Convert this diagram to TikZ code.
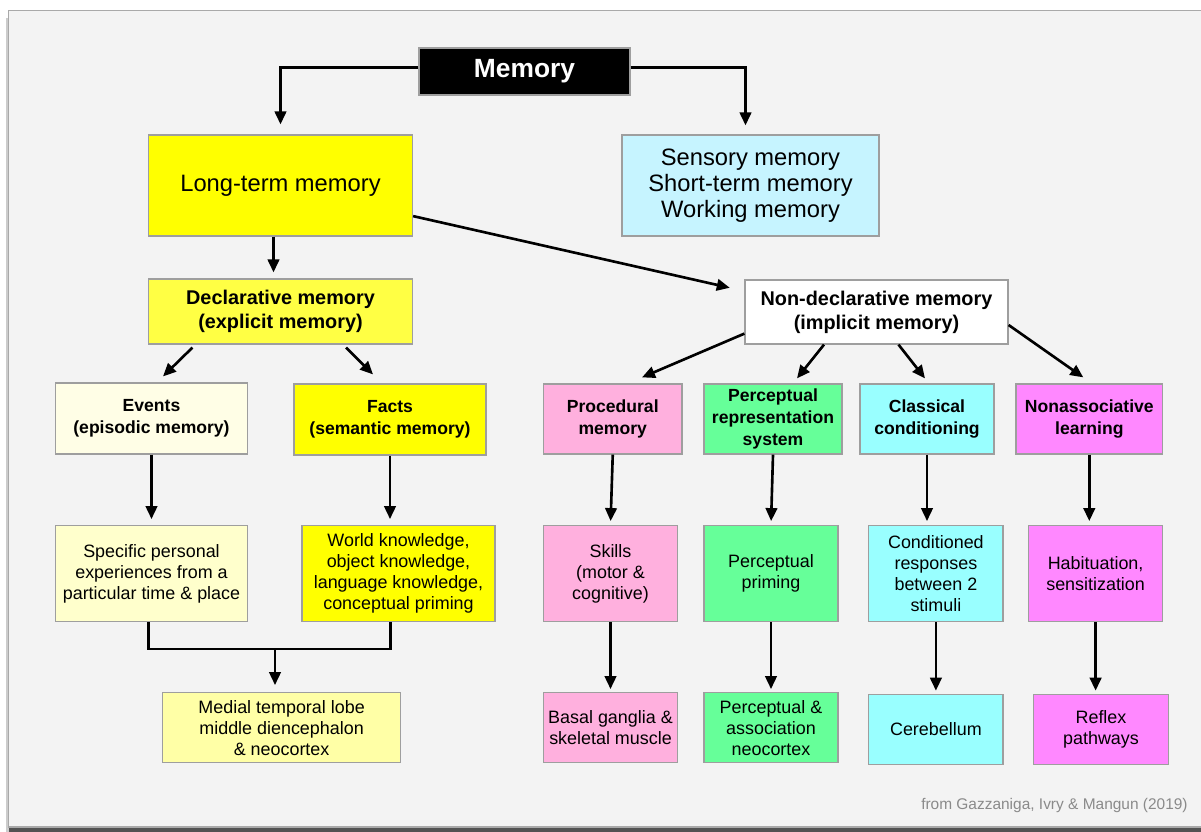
\documentclass[tikz,border=0pt]{standalone}
\usepackage{fontspec}
\setmainfont{Liberation Sans}
\usetikzlibrary{arrows.meta}
\definecolor{slidebg}{HTML}{F3F3F3}
\definecolor{slideedge}{HTML}{A9A9A9}
\definecolor{boxedge}{HTML}{9E9E9E}
\definecolor{ltmyellow}{HTML}{FFFF00}
\definecolor{declyellow}{HTML}{FFFF44}
\definecolor{eventcream}{HTML}{FFFEE6}
\definecolor{specificcream}{HTML}{FFFFCC}
\definecolor{medialyellow}{HTML}{FFFFA6}
\definecolor{sensoryblue}{HTML}{C6F4FF}
\definecolor{procpink}{HTML}{FFB0DE}
\definecolor{prsgreen}{HTML}{66FF99}
\definecolor{condcyan}{HTML}{99FFFF}
\definecolor{nonassocmag}{HTML}{FF88FF}
\definecolor{creditgray}{HTML}{8A8A8A}
\begin{document}
\begin{tikzpicture}[x=0.02cm, y=-0.02cm,
      wh/.style 2 args={minimum width=#1*0.02cm, minimum height=#2*0.02cm},
      box/.style={draw=boxedge, line width=0.7pt, inner sep=0pt, align=center, text=black},
      plain/.style={box, font=\fontsize{10.2}{11.9}\selectfont},
      head/.style={box, font=\bfseries\fontsize{10}{12.5}\selectfont},
      big/.style={box, font=\fontsize{13.5}{14.8}\selectfont},
      mid/.style={box, font=\bfseries\fontsize{11.3}{13.6}\selectfont},
      memhead/.style={fill=black, draw=boxedge, line width=0.7pt, text=white,
        font=\bfseries\fontsize{15}{18}\selectfont},
      link/.style={-{Triangle[length=2.6mm,width=2.3mm]}, line width=1.5pt},
      wire/.style={line width=1.5pt}]
      \useasboundingbox (0,0) rectangle (1201,832);
      \clip (0,0) rectangle (1201,832);
      \fill[white] (0,0) rectangle (1201,832);
      \fill[black!20] (6,18) rectangle (1215,832);
      \fill[black!68] (9,828) rectangle (1215,832);
      \path[draw=slideedge, fill=slidebg, line width=0.85pt] (8.5,10.5) rectangle (1215,827);
      \path (524.5,71.5) node[memhead, wh={211}{47}] (mem) {Memory};
      \path (280.5,185.5) node[big, fill=ltmyellow, wh={264}{101}] (ltm) {Long-term memory};
      \path (750.5,185.5) node[big, fill=sensoryblue, wh={257}{101}] (stm)
        {Sensory memory\\Short-term memory\\Working memory};
      \path (280.5,311.5) node[mid, fill=declyellow, wh={264}{65}] (decl)
        {Declarative memory\\(explicit memory)};
      \path (876.5,312) node[mid, fill=white, wh={263}{64}] (nondecl)
        {Non-declarative memory\\(implicit memory)};
      \path (151.5,418.5) node[head, fill=eventcream, wh={192}{71}] (events)
        {Events\\(episodic memory)};
      \path (390,419.5) node[head, fill=ltmyellow, wh={192}{71}] (facts)
        {Facts\\(semantic memory)};
      \path (612.75,419) node[head, fill=procpink, wh={138.5}{70}] (proc)
        {Procedural\\memory};
      \path (773,419) node[head, fill=prsgreen, wh={138}{70}] (prs)
        {Perceptual\\representation\\system};
      \path (927,419) node[head, fill=condcyan, wh={134}{70}] (classical)
        {Classical\\conditioning};
      \path (1089.3,419) node[head, fill=nonassocmag, wh={146.6}{70}] (nonassoc)
        {Nonassociative\\learning};
      \path (151.5,573.7) node[plain, fill=specificcream, wh={192}{96}] (specific)
        {Specific personal\\experiences from a\\particular time \& place};
      \path (398.5,573.7) node[plain, fill=ltmyellow, wh={193}{96}] (world)
        {World knowledge,\\object knowledge,\\language knowledge,\\conceptual priming};
      \path (610.5,573.7) node[plain, fill=procpink, wh={134.3}{96}] (skills)
        {Skills\\(motor \&\\cognitive)};
      \path (771,573.7) node[plain, fill=prsgreen, wh={134}{96}] (priming)
        {Perceptual\\priming};
      \path (935.9,573.7) node[plain, fill=condcyan, wh={134.3}{96}] (cond)
        {Conditioned\\responses\\between 2\\stimuli};
      \path (1095.6,573.7) node[plain, fill=nonassocmag, wh={134}{96}] (habit)
        {Habituation,\\sensitization};
      \path (281.6,727.7) node[plain, fill=medialyellow, wh={238}{70}] (medial)
        {Medial temporal lobe\\middle diencephalon\\\& neocortex};
      \path (610.5,727.7) node[plain, fill=procpink, wh={134.3}{70}] (basal)
        {Basal ganglia \&\\skeletal muscle};
      \path (771,727.7) node[plain, fill=prsgreen, wh={134}{70}] (assoc)
        {Perceptual \&\\association\\neocortex};
      \path (935.9,729.3) node[plain, fill=condcyan, wh={134.3}{70}] (cereb)
        {Cerebellum};
      \path (1101,729.3) node[plain, fill=nonassocmag, wh={134.7}{70}] (reflex)
        {Reflex\\pathways};
      \path (1188,805) node[anchor=east, inner sep=0pt, text=creditgray,
        font=\fontsize{8.8}{10}\selectfont] (credit) {from Gazzaniga, Ivry \& Mangun (2019)};
      \draw[link, shorten >=0.2cm] ([yshift=0.08cm]mem.west) -| (ltm.north);
      \draw[link, shorten >=0.18cm] ([yshift=0.08cm]mem.east) -| ([xshift=-0.1cm]stm.north);
      \draw[link, shorten >=0.12cm] ([xshift=-0.14cm]ltm.south) -- ([xshift=-0.14cm]decl.north);
      \draw[link, shorten >=0.3cm] (ltm.-13) -- (nondecl.171);
      \draw[link] ([shift={(44.5,3)}]decl.south west) -- ([shift={(11.5,-6)}]events.north);
      \draw[link] ([shift={(-67,3)}]decl.south east) -- ([shift={(-17,-9)}]facts.north);
      \draw[link] ([shift={(0,-11)}]nondecl.south west) -- ([shift={(29.25,-6)}]proc.north);
      \draw[link] ([shift={(-52.5,0)}]nondecl.south) -- ([shift={(24,-5)}]prs.north);
      \draw[link] ([shift={(22,0)}]nondecl.south) -- ([shift={(-2,-5)}]classical.north);
      \draw[link] ([shift={(0,13)}]nondecl.east) -- ([shift={(-6,-6)}]nonassoc.north);
      \draw[link, shorten >=0.12cm] (events.south) -- (specific.north);
      \draw[link, shorten >=0.12cm] (facts.south) -- (facts.south |- world.north);
      \draw[link, shorten >=0.08cm] (proc.south) -- (skills.north);
      \draw[link, shorten >=0.08cm] (prs.south) -- (priming.north);
      \draw[link, shorten >=0.08cm] (classical.south) -- (classical.south |- cond.north);
      \draw[link, shorten >=0.08cm] (nonassoc.south) -- (nonassoc.south |- habit.north);
      \draw[link, shorten >=0.06cm] (skills.south) -- (basal.north);
      \draw[link, shorten >=0.06cm] (priming.south) -- (assoc.north);
      \draw[link, shorten >=0.06cm] (cond.south) -- (cereb.north);
      \draw[link, shorten >=0.06cm] (habit.south) -- (habit.south |- reflex.north);
      \coordinate (join) at (275,649);
      \draw[wire] ([xshift=-0.06cm]specific.south) |- (join) -| ([xshift=-0.16cm]world.south);
      \draw[link, shorten >=0.14cm] (join) -- (join |- medial.north);
\end{tikzpicture}
\end{document}
